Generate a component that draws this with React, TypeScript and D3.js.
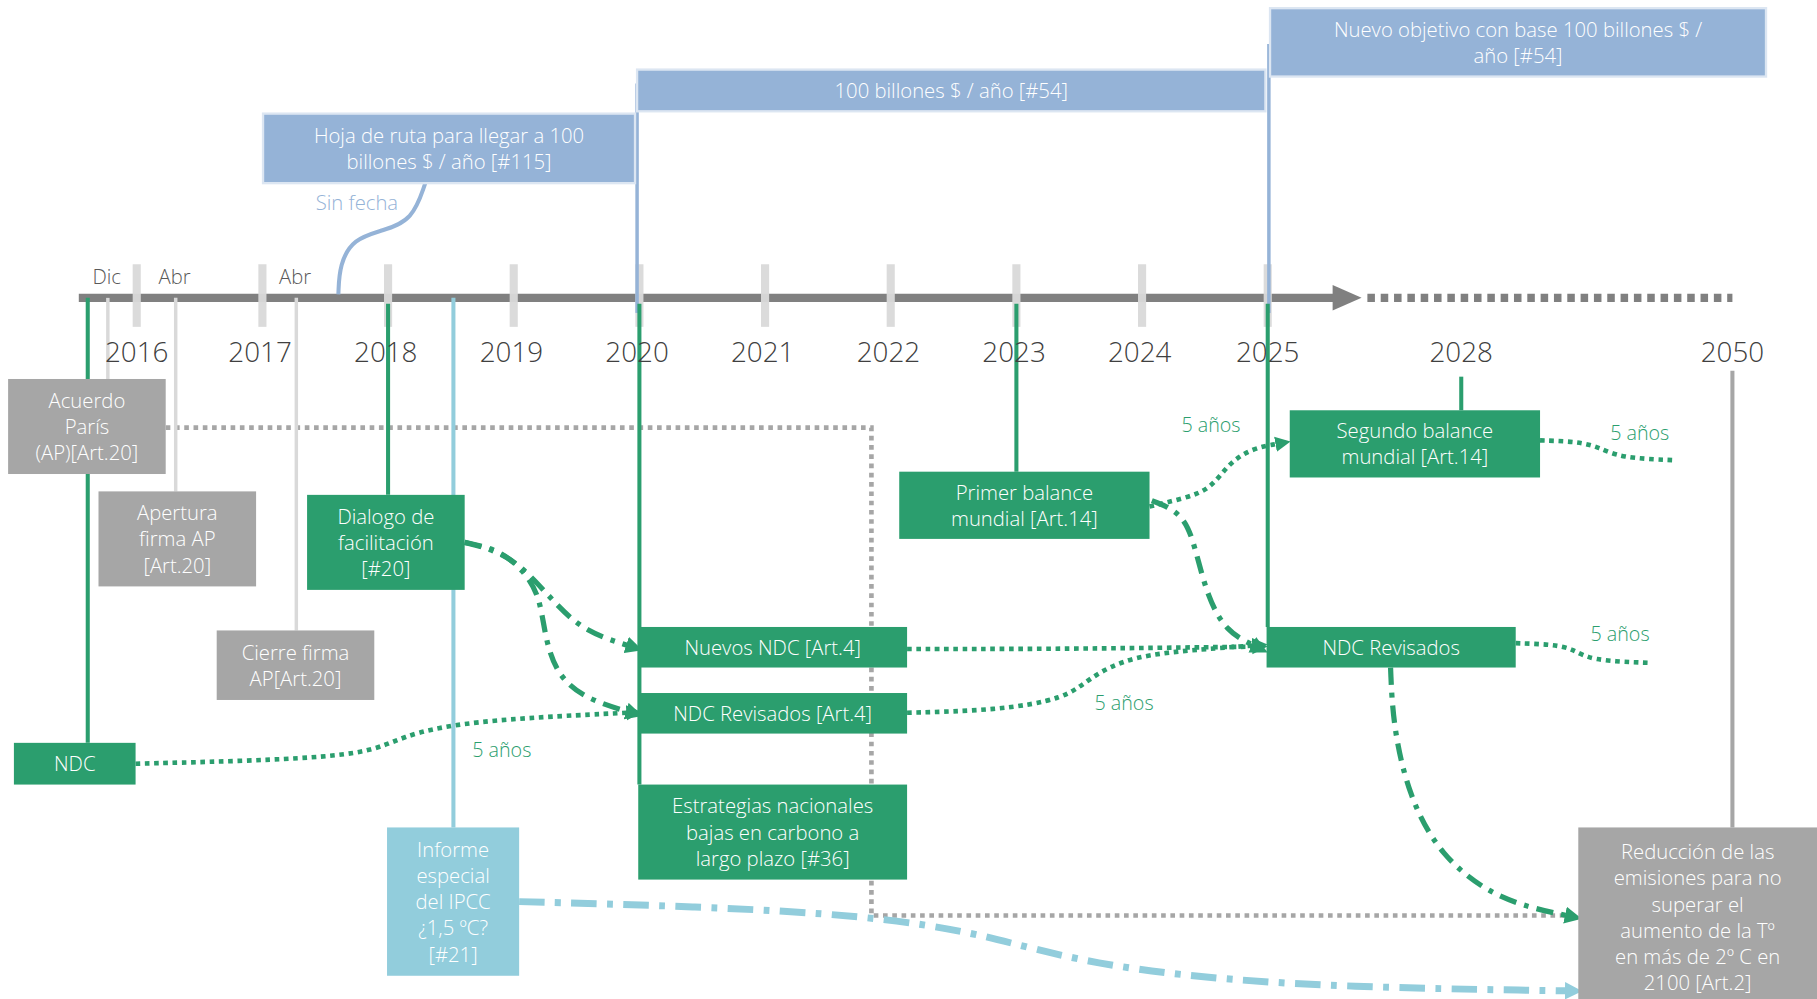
import React from 'react';
import * as d3 from 'd3';

// Timeline of the Paris Agreement (years and milestones)
const tickYears = [2016, 2017, 2018, 2019, 2020, 2021, 2022, 2023, 2024, 2025];
const labelYears = [2016, 2017, 2018, 2019, 2020, 2021, 2022, 2023, 2024, 2025, 2028, 2050];
const monthMarks = [
    { label: 'Dic', date: 2015.77 },
    { label: 'Abr', date: 2016.31 },
    { label: 'Abr', date: 2017.27 },
];
const fiveYears = '5 años';

const boxes = [
    { id: 'hoja', kind: 'blue', lines: ['Hoja de ruta para llegar a 100', 'billones $ / año [#115]'] },
    { id: 'cien', kind: 'blue', lines: ['100 billones $ / año [#54]'] },
    { id: 'nuevoObj', kind: 'blue', lines: ['Nuevo objetivo con base 100 billones $ /', 'año [#54]'] },
    { id: 'acuerdo', kind: 'gray', lines: ['Acuerdo', 'París', '(AP)[Art.20]'] },
    { id: 'apertura', kind: 'gray', lines: ['Apertura', 'firma AP', '[Art.20]'] },
    { id: 'cierre', kind: 'gray', lines: ['Cierre firma', 'AP[Art.20]'] },
    { id: 'dialogo', kind: 'green', lines: ['Dialogo de', 'facilitación', '[#20]'] },
    { id: 'ndc', kind: 'green', lines: ['NDC'] },
    { id: 'ipcc', kind: 'light', lines: ['Informe', 'especial', 'del IPCC', '¿1,5 ºC?', '[#21]'] },
    { id: 'nuevosNdc', kind: 'green', lines: ['Nuevos NDC [Art.4]'] },
    { id: 'ndcRev1', kind: 'green', lines: ['NDC Revisados [Art.4]'] },
    { id: 'estrategias', kind: 'green', lines: ['Estrategias nacionales', 'bajas en carbono a', 'largo plazo [#36]'] },
    { id: 'primer', kind: 'green', lines: ['Primer balance', 'mundial [Art.14]'] },
    { id: 'segundo', kind: 'green', lines: ['Segundo balance', 'mundial [Art.14]'] },
    { id: 'ndcRev2', kind: 'green', lines: ['NDC Revisados'] },
    { id: 'reduccion', kind: 'gray', lines: ['Reducción de las', 'emisiones para no', 'superar el', 'aumento de la Tº', 'en más de 2º C en', '2100 [Art.2]'] },
];

// milestone lines hanging from the axis: date on the axis
const stems = [
    { kind: 'pale', date: 2015.77, to: 'acuerdo' },
    { kind: 'pale', date: 2016.31, to: 'apertura' },
    { kind: 'pale', date: 2017.27, to: 'cierre' },
    { kind: 'green', date: 2015.61, to: 'ndc' },
    { kind: 'green', date: 2018, to: 'dialogo' },
    { kind: 'light', date: 2018.52, to: 'ipcc' },
    { kind: 'green', date: 2020, to: 'estrategias' },
    { kind: 'green', date: 2023, to: 'primer' },
    { kind: 'green', date: 2025, to: 'ndcRev2' },
    { kind: 'green', date: 2028, to: 'segundo' },
    { kind: 'gray', date: 2050, to: 'reduccion' },
];

const colors = {
    green: '#2b9e6e',
    blue: '#95b3d7',
    blueEdge: '#dce6f2',
    light: '#92cddc',
    gray: '#a6a6a6',
    pale: '#d9d9d9',
    axis: '#808080',
    text: '#404040',
};

const W = 1568;
const H = 862;
const axisY = 257;
const font = "'Open Sans', Lato, sans-serif";

const x = d3.scaleLinear()
    .domain([2015.5, 2016, 2025, 2028, 2050])
    .range([63.8, 118, 1094, 1261, 1495]);

// box layout (left, top, width, height)
const layout = {
    hoja: [227, 98, 321, 60],
    cien: [x(2020) - 2, 60, x(2025) - x(2020), 36],
    nuevoObj: [x(2025) + 2, 7, 428, 59],
    acuerdo: [7, 327, 136, 82],
    apertura: [85, 424, 136, 82],
    cierre: [187, 544, 136, 60],
    dialogo: [265, 427, 136, 82],
    ndc: [12, 641, 105, 36],
    ipcc: [334, 714, 114, 128],
    nuevosNdc: [x(2020) - 1, 541, 232, 35],
    ndcRev1: [x(2020) - 1, 598, 232, 35],
    estrategias: [x(2020) - 1, 677, 232, 82],
    primer: [776, 407, 216, 58],
    segundo: [1113, 354, 216, 58],
    ndcRev2: [x(2025) - 1, 541, 215, 35],
    reduccion: [1362, 714, 206, 155],
};

const fill = { green: colors.green, blue: colors.blue, gray: colors.gray, light: colors.light };
const stemColor = { green: colors.green, light: colors.light, gray: colors.gray, pale: colors.pale };

const curve = d3.line().curve(d3.curveBasis);
const box = id => {
    const [bx, by, bw, bh] = layout[id];
    return { left: bx, top: by, right: bx + bw, bottom: by + bh, cy: by + bh / 2, cx: bx + bw / 2 };
};

const App = () => {
    const acu = box('acuerdo');
    const red = box('reduccion');
    const ndc = box('ndc');
    const dia = box('dialogo');
    const nn = box('nuevosNdc');
    const r1 = box('ndcRev1');
    const r2 = box('ndcRev2');
    const pb = box('primer');
    const sb = box('segundo');
    const ip = box('ipcc');
    const hoja = box('hoja');
    const elbow = 752;

    const dotted = { fill: 'none', stroke: colors.green, strokeWidth: 4, strokeDasharray: '4 4' };
    const dashDot = { fill: 'none', stroke: colors.green, strokeWidth: 4.5, strokeDasharray: '15 7 4 7' };

    const connectors = [
        { style: dotted, arrow: 'g', pts: [[ndc.right, 659], [240, 656], [320, 650], [345, 636], [400, 622], [r1.left - 9, 615]] },
        { style: dashDot, arrow: 'g', pts: [[dia.right, 468], [432, 476], [456, 494], [480, 522], [505, 545], [nn.left - 9, 557]] },
        { style: dashDot, arrow: 'g', pts: [[dia.right, 468], [430, 474], [452, 492], [466, 515], [470, 548], [480, 582], [505, 603], [r1.left - 9, 614]] },
        { style: dotted, arrow: 'g', pts: [[nn.right, 560], [900, 560], [1000, 559], [r2.left - 11, 558]] },
        { style: dotted, arrow: 'g', pts: [[r1.right, 615], [860, 613], [920, 603], [940, 585], [975, 566], [1040, 560], [r2.left - 11, 557]] },
        { style: dotted, arrow: 'g', pts: [[pb.right, 437], [1022, 430], [1045, 422], [1060, 400], [1080, 387], [sb.left - 11, 383]] },
        { style: dashDot, arrow: 'g', pts: [[pb.right + 2, 432], [1022, 443], [1032, 475], [1042, 515], [1058, 545], [r2.left - 11, 557]] },
        { style: dotted, arrow: null, pts: [[sb.right, 380], [1362, 381], [1380, 386], [1398, 395], [1443, 397]] },
        { style: dotted, arrow: null, pts: [[r2.right, 555], [1340, 556], [1358, 560], [1372, 570], [1424, 572]] },
        { style: dashDot, arrow: 'g', pts: [[1200, r2.bottom], [1202, 625], [1215, 685], [1242, 738], [1292, 777], [red.left - 10, 790]] },
        { style: { fill: 'none', stroke: colors.light, strokeWidth: 6, strokeDasharray: '22 9 5 9' }, arrow: 'l', pts: [[ip.right, 778], [600, 782], [750, 790], [850, 806], [935, 832], [1100, 851], [red.left - 10, 855]] },
    ];

    const fiveLabels = [[433, 647], [970, 607], [1045, 367], [1415, 374], [1398, 547]];

    return (
        <svg width={1817} height={999} viewBox={`0 0 ${W} ${H}`}
            style={{ position: 'fixed', left: 0, top: 0, background: '#fff' }}
            fontFamily={font}>
            <defs>
                <marker id="arrow-g" viewBox="0 0 10 10" refX="1" refY="5" markerWidth="3.3" markerHeight="3.4"
                    orient="auto" markerUnits="strokeWidth">
                    <path d="M0,0 L10,5 L0,10 Z" fill={colors.green} />
                </marker>
                <marker id="arrow-l" viewBox="0 0 10 10" refX="1" refY="5" markerWidth="2.5" markerHeight="2.6"
                    orient="auto" markerUnits="strokeWidth">
                    <path d="M0,0 L10,5 L0,10 Z" fill={colors.light} />
                </marker>
            </defs>

            {/* gray dotted path from the agreement to the 2100 goal */}
            <path d={`M${acu.right},369 H${elbow} V790 H${red.left}`} fill="none"
                stroke={colors.gray} strokeWidth={4} strokeDasharray="4 4" />

            {/* axis */}
            <line x1={68} x2={1152} y1={axisY} y2={axisY} stroke={colors.axis} strokeWidth={7} />
            <path d={`M1150,${axisY - 11} L1175,${axisY} L1150,${axisY + 11} Z`} fill={colors.axis} />
            <line x1={1180} x2={x(2050)} y1={axisY} y2={axisY} stroke={colors.axis} strokeWidth={7}
                strokeDasharray="6.5 5" />
            {tickYears.map(yr => (
                <rect key={yr} x={x(yr) - 3.5} y={228} width={7} height={54} fill={colors.pale} opacity={0.95} />
            ))}

            {/* blue funding boxes with their stems */}
            <line x1={x(2020) - 2} x2={x(2020) - 2} y1={72} y2={270} stroke={colors.blue} strokeWidth={3} />
            <line x1={x(2025) + 1} x2={x(2025) + 1} y1={38} y2={270} stroke={colors.blue} strokeWidth={3} />
            <path d={curve([[292, 254], [293, 228], [305, 206], [330, 199], [356, 190], [367, hoja.bottom]])}
                fill="none" stroke={colors.blue} strokeWidth={3.5} />
            <text x={308} y={181} textAnchor="middle" fontSize={17.5} fontWeight={300} fill={colors.blue}>Sin fecha</text>

            {/* stems */}
            {stems.map((s, i) => {
                const b = box(s.to);
                const sx = x(s.date);
                const y0 = s.kind === 'green' && s.date >= 2018 ? 262 : axisY;
                const y1 = s.date === 2028 ? 325 : axisY;
                return (
                    <line key={i} x1={sx} x2={sx} y1={s.date === 2050 ? 320 : Math.max(y0, y1)} y2={b.top}
                        stroke={stemColor[s.kind]} strokeWidth={s.kind === 'pale' ? 3 : 3.5} />
                );
            })}

            {/* month labels */}
            {monthMarks.map((m, i) => (
                <text key={i} x={x(m.date) - 1} y={245} textAnchor="middle" fontSize={17.5} fontWeight={300}
                    fill="#595959">{m.label}</text>
            ))}

            {/* year labels */}
            {labelYears.map(yr => (
                <text key={yr} x={x(yr) - (yr > 2016 && yr < 2025 ? 2 : 0)} y={312} textAnchor="middle"
                    fontSize={24} fontWeight={300} fill={colors.text}>{yr}</text>
            ))}

            {/* connectors */}
            {connectors.map((c, i) => (
                <path key={i} d={curve(c.pts)} style={c.style}
                    markerEnd={c.arrow ? `url(#arrow-${c.arrow})` : undefined} />
            ))}

            {/* boxes */}
            {boxes.map(b => {
                const [bx, by, bw, bh] = layout[b.id];
                const lh = 22.6;
                const first = by + bh / 2 - (b.lines.length - 1) * lh / 2 + 6.5;
                return (
                    <g key={b.id}>
                        <rect x={bx} y={by} width={bw} height={bh} fill={fill[b.kind]}
                            stroke={b.kind === 'blue' ? colors.blueEdge : 'none'} strokeWidth={2} />
                        {b.lines.map((ln, j) => (
                            <text key={j} x={bx + bw / 2} y={first + j * lh} textAnchor="middle"
                                fontSize={17.5} fontWeight={300} fill="#fff">{ln}</text>
                        ))}
                    </g>
                );
            })}

            {fiveLabels.map(([lx, ly], i) => (
                <text key={i} x={lx} y={ly + 6} textAnchor="middle" fontSize={17} fontWeight={300}
                    fill={colors.green}>{fiveYears}</text>
            ))}
        </svg>
    );
};

export default App;
